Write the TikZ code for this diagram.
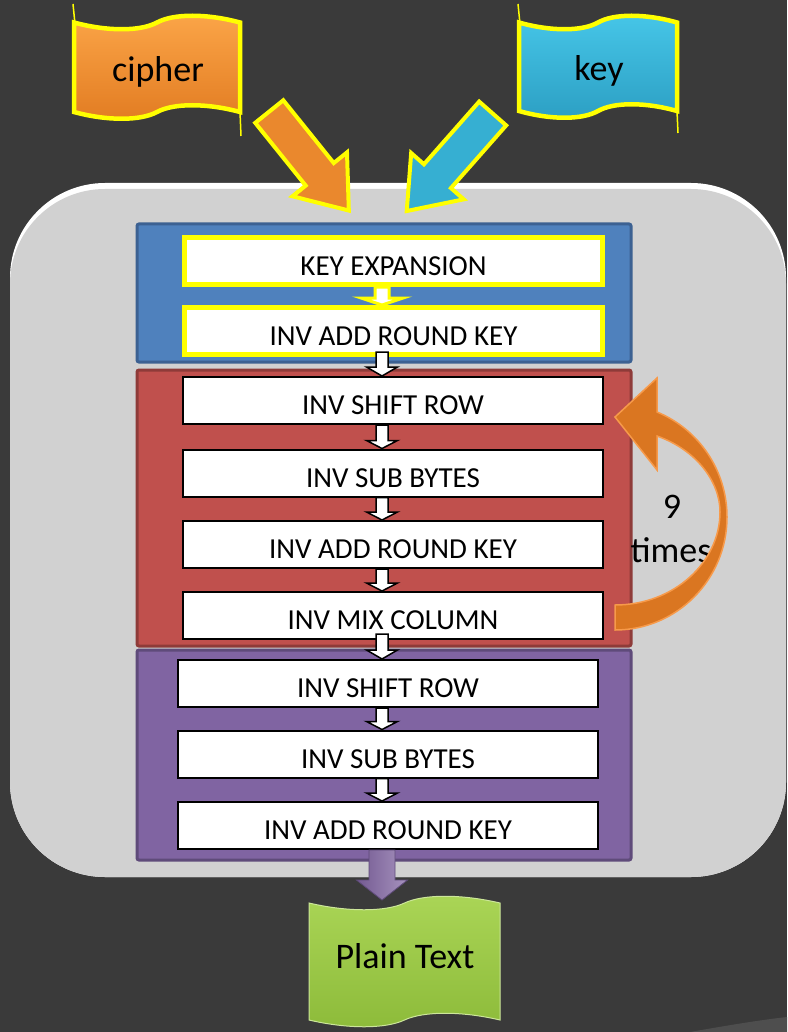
\documentclass[tikz,border=0pt]{standalone}
\usepackage{fontspec}
\setmainfont{Carlito}
\usepackage{tikz}
\usetikzlibrary{calc,shapes.arrows}
\definecolor{slidebg}{HTML}{3A3A3A}
\definecolor{slidegrey}{HTML}{4E4E4E}
\definecolor{boxgrey}{HTML}{D1D1D1}
\definecolor{rim}{HTML}{FFFF00}
\definecolor{pblue}{HTML}{4F81BD}
\definecolor{pblueline}{HTML}{3C6192}
\definecolor{pred}{HTML}{C0504D}
\definecolor{predline}{HTML}{8E3B39}
\definecolor{ppurple}{HTML}{8064A2}
\definecolor{ppurpleline}{HTML}{5F4B7A}
\definecolor{orangetop}{HTML}{FBA548}
\definecolor{orangebot}{HTML}{E27C22}
\definecolor{cyantop}{HTML}{46C6E8}
\definecolor{cyanbot}{HTML}{2C9FC3}
\definecolor{greentop}{HTML}{AAD556}
\definecolor{greenbot}{HTML}{8DBB3A}
\definecolor{loopfill}{HTML}{DA7621}
\definecolor{loopline}{HTML}{F79A4A}
% wave flag: style, left, top, right, bottom, wave depth
\newcommand{\flagshape}[6]{\path[#1] (#2,#3)
  .. controls ({#2+0.2*(#4-#2)},#3+#6) and ({#2+0.4*(#4-#2)},#3+#6) .. ({#2+0.5*(#4-#2)},#3)
  .. controls ({#2+0.6*(#4-#2)},#3-#6) and ({#2+0.8*(#4-#2)},#3-#6) .. (#4,#3) -- (#4,#5)
  .. controls ({#2+0.8*(#4-#2)},#5-#6) and ({#2+0.6*(#4-#2)},#5-#6) .. ({#2+0.5*(#4-#2)},#5)
  .. controls ({#2+0.4*(#4-#2)},#5+#6) and ({#2+0.2*(#4-#2)},#5+#6) .. (#2,#5) -- cycle;}
% block arrow down the spine: style, from, to, shaft half width, head half width, head length
\newcommand{\flowarrow}[6][flowline]{\draw[#1] let \p1=(#2), \p2=(#3), \p3=(spine) in (\x3-#4pt,\y1) -- (\x3-#4pt,\y2+#6pt) -- (\x3-#5pt,\y2+#6pt) -- (\x3,\y2) -- (\x3+#5pt,\y2+#6pt) -- (\x3+#4pt,\y2+#6pt) -- (\x3+#4pt,\y1) -- cycle;}

\begin{document}
\begin{tikzpicture}[x=1pt,y=-1pt,
  stepbox/.style={draw=black, line width=2pt, fill=white, minimum width=420pt, minimum height=47pt, inner sep=0pt, text height=28pt, text depth=0pt, font=\fontsize{29}{30}\selectfont},
  keybox/.style={stepbox, draw=rim, line width=5pt, minimum width=418pt},
  flowline/.style={draw=black, line width=1.5pt, fill=white},
  keyline/.style={draw=rim, line width=3pt, fill=white},
  panel/.style={line width=3pt, rounded corners=2pt},
  label/.style={font=\fontsize{36}{40}\selectfont, anchor=base},
  spike/.style={rim, line width=1.5pt},
  bigarrow/.style={single arrow, draw=rim, line width=4pt, inner xsep=0pt, inner ysep=16pt, minimum width=0pt, single arrow head extend=17pt, single arrow tip angle=74, sloped, allow upside down, pos=0, anchor=tail}]
\useasboundingbox (0,0) rectangle (787,1032);
\fill[slidebg] (0,0) rectangle (787,1032);
\fill[slidegrey] (690,1032) .. controls (730,1025) and (760,1020) .. (787,1017) -- (787,1032) -- cycle;

\fill[white, rounded corners=95pt] (10,183) rectangle (786,877);
\fill[boxgrey, rounded corners=95pt] (10,189) rectangle (786,877);

\draw[panel, fill=pblue, draw=pblueline] (137,224) rectangle (631,362);
\draw[panel, fill=pred, draw=predline] (137,370) rectangle (631,646);
\draw[panel, fill=ppurple, draw=ppurpleline] (137,650) rectangle (631,860);

\coordinate (spine) at (382,0);
\node[keybox] (keyexp) at (393.5,261) {KEY EXPANSION};
\node[keybox] (addkey0) at (393.5,331) {INV ADD ROUND KEY};
\node[stepbox] (shift1) at (393,400.5) {INV SHIFT ROW};
\node[stepbox] (sub1) at (393,473) {INV SUB BYTES};
\node[stepbox] (addkey1) at (393,544.5) {INV ADD ROUND KEY};
\node[stepbox] (mix1) at (393,615.5) {INV MIX COLUMN};
\node[stepbox] (shift2) at (388,683.5) {INV SHIFT ROW};
\node[stepbox] (sub2) at (388,754) {INV SUB BYTES};
\node[stepbox] (addkey2) at (388,825.5) {INV ADD ROUND KEY};

\flowarrow[keyline]{keyexp.south}{addkey0.north}{7}{21}{7}
\flowarrow{$(addkey0.south)+(0,-5)$}{shift1.north}{6}{15.5}{9}
\flowarrow{shift1.south}{sub1.north}{6}{15.5}{8}
\flowarrow{sub1.south}{addkey1.north}{6}{15.5}{8}
\flowarrow{addkey1.south}{mix1.north}{6}{15.5}{8}
\flowarrow{$(mix1.south)+(0,-6)$}{shift2.north}{6}{15.5}{9}
\flowarrow{shift2.south}{sub2.north}{6}{15.5}{8}
\flowarrow{sub2.south}{addkey2.north}{6}{15.5}{8}

\node[label] (nine) at (672,518) {9};
\node[label] (times) at (671,562) {times};
\draw[fill=loopfill, draw=loopline, line width=1.5pt] (615,630) .. controls (676.9,630) and (727,579.4) .. (727,517)
  .. controls (727,470.9) and (699.3,429.5) .. (657,412) -- (657,378) -- (615,417) -- (657,470) -- (657,436)
  .. controls (696.4,449.9) and (720,481.7) .. (720,512) .. controls (720,562) and (674.1,605) .. (615,605) -- cycle;

\flagshape{draw=rim, line width=4.5pt, top color=orangetop, bottom color=orangebot}{74}{22.5}{240}{112}{9}
\draw[spike] (73,4) -- (75,24);
\draw[spike] (240,112) -- (241,136);
\node[label] (cipher) at (158,82) {cipher};

\flagshape{draw=rim, line width=4.5pt, top color=cyantop, bottom color=cyanbot}{519}{22.5}{677}{111}{9}
\draw[spike] (518,4) -- (520,24);
\draw[spike] (677,111) -- (678,133);
\node[label] (key) at (599,81) {key};

\coordinate (cipherout) at (268,110);
\coordinate (cipherin) at (350,212);
\coordinate (keyout) at (494,112);
\coordinate (keyin) at (405,213);
\path (cipherout) -- node[bigarrow, fill=orangebot!70!orangetop, minimum height=127pt] {} (cipherin);
\path (keyout) -- node[bigarrow, fill=cyanbot!60!cyantop, minimum height=130pt] {} (keyin);

\flagshape{draw=greentop!60!white, line width=1pt, top color=greentop, bottom color=greenbot}{309}{903}{500}{1020}{9}
\node[label] (plain) at (405,968) {Plain Text};
\coordinate (plainin) at (382,900);
\flowarrow[draw=ppurpleline, line width=0.8pt, left color=ppurple!90!black, right color=ppurple!70!white]{addkey2.south}{plainin}{13}{25.5}{20}
\end{tikzpicture}
\end{document}
